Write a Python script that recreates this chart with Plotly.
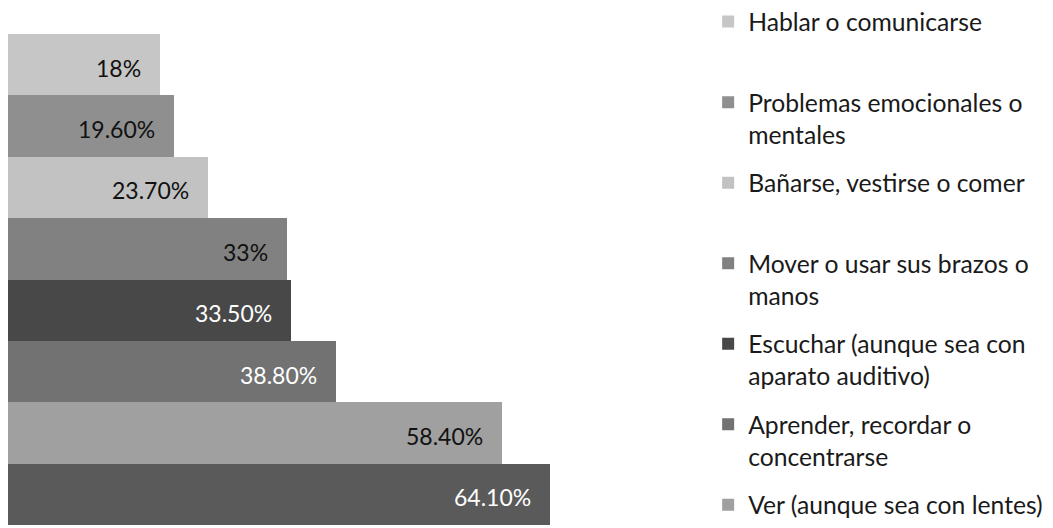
import plotly.graph_objects as go

# Data (top to bottom)
categories = [
    "Hablar o comunicarse",
    "Problemas emocionales o mentales",
    "Bañarse, vestirse o comer",
    "Mover o usar sus brazos o manos",
    "Escuchar (aunque sea con aparato auditivo)",
    "Aprender, recordar o concentrarse",
    "Ver (aunque sea con lentes)",
    "Caminar, subir o bajar usando sus piernas",
]
legend_names = [
    "Hablar o comunicarse<br>\u00a0",
    "Problemas emocionales o<br>mentales",
    "Bañarse, vestirse o comer<br>\u00a0",
    "Mover o usar sus brazos o<br>manos",
    "Escuchar (aunque sea con<br>aparato auditivo)",
    "Aprender, recordar o<br>concentrarse",
    "Ver (aunque sea con lentes)<br>\u00a0",
    "Caminar, subir o bajar usando sus piernas",
]
values = [18, 19.6, 23.7, 33, 33.5, 38.8, 58.4, 64.1]
labels = ["18%", "19.60%", "23.70%", "33%", "33.50%", "38.80%", "58.40%", "64.10%"]
show_in_legend = [True, True, True, True, True, True, True, False]

colors = ["#c6c6c6", "#8f8f8f", "#c2c2c2", "#818181", "#484848", "#727272", "#a0a0a0", "#5a5a5a"]
text_colors = ["#111111", "#111111", "#111111", "#111111", "#ffffff", "#ffffff", "#111111", "#ffffff"]

FONT = "Lato"

fig = go.Figure()
for i, cat in enumerate(categories):
    fig.add_trace(go.Bar(
        x=[values[i]],
        y=[cat],
        orientation="h",
        name=legend_names[i],
        legendgroup=f"g{i}",
        showlegend=show_in_legend[i],
        marker=dict(color=colors[i], line=dict(width=0)),
        hovertemplate=cat + ": " + labels[i] + "<extra></extra>",
    ))
    fig.add_annotation(
        x=values[i], y=cat, xref="x", yref="y",
        text=labels[i], showarrow=False,
        xanchor="right", yanchor="middle", xshift=-17, yshift=-3,
        font=dict(family=FONT, size=23, color=text_colors[i]),
    )

fig.update_layout(
    width=1053, height=528,
    margin=dict(l=8, r=0, t=33, b=3),
    paper_bgcolor="white", plot_bgcolor="white",
    barmode="relative", bargap=0,
    xaxis=dict(visible=False, range=[0, 70], domain=[0, 0.5664]),
    yaxis=dict(visible=False, categoryorder="array", categoryarray=categories,
               autorange="reversed"),
    showlegend=True,
    legend=dict(
        x=0.67, xanchor="left", y=1.069, yanchor="top",
        font=dict(family=FONT, size=24.7, color="#1a1a1a"),
        tracegroupgap=13.3, valign="top", bgcolor="rgba(0,0,0,0)",
        traceorder="grouped", maxheight=700,
    ),
    font=dict(family=FONT),
)

fig.write_html("out.html", config={"displayModeBar": False},
               post_script="document.body.style.margin='0';")
